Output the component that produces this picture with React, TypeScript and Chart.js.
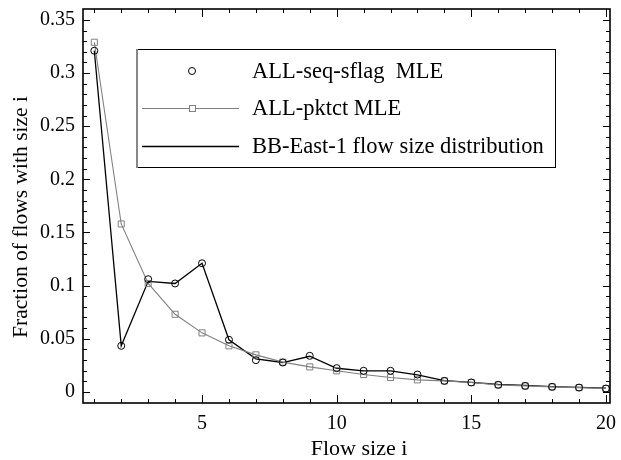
import React, { useEffect, useRef } from "react";
import { Chart, registerables } from "chart.js";

Chart.register(...registerables);

const flowSizes = [1, 2, 3, 4, 5, 6, 7, 8, 9, 10, 11, 12, 13, 14, 15, 16, 17, 18, 19, 20];
const seqSflagMLE = [0.321, 0.0433, 0.106, 0.102, 0.121, 0.049, 0.0298, 0.0276, 0.0339, 0.0223, 0.0198, 0.0198, 0.0163, 0.0103, 0.0088, 0.0066, 0.0056, 0.0047, 0.004, 0.0031];
const pktctMLE = [0.329, 0.158, 0.102, 0.073, 0.0555, 0.0433, 0.0348, 0.028, 0.0235, 0.0198, 0.0163, 0.0135, 0.0113, 0.0103, 0.0088, 0.0066, 0.0056, 0.0047, 0.004, 0.0031];
const bbEastDist = [0.321, 0.0433, 0.104, 0.102, 0.121, 0.049, 0.031, 0.0276, 0.0335, 0.0222, 0.0198, 0.0198, 0.016, 0.0105, 0.009, 0.0071, 0.006, 0.005, 0.0042, 0.0035];
const xTickValues = [5, 10, 15, 20];
const yTickValues = [0, 0.05, 0.1, 0.15, 0.2, 0.25, 0.3, 0.35];
const seriesLabels = ["ALL-seq-sflag  MLE", "ALL-pktct MLE", "BB-East-1 flow size distribution"];
const xTitle = "Flow size i";
const yTitle = "Fraction of flows with size i";

const FONT = "'Liberation Serif', 'DejaVu Serif', serif";

const frameTicksPlugin = {
  id: "frameTicks",
  afterDatasetsDraw(chart: any) {
    const { ctx, chartArea } = chart;
    const { left, right, top, bottom } = chartArea;
    const xs = chart.scales.x;
    const ys = chart.scales.y;
    ctx.save();
    ctx.strokeStyle = "#000";
    ctx.lineWidth = 1;
    ctx.beginPath();
    for (const v of flowSizes) {
      const px = Math.round(xs.getPixelForValue(v)) + 0.5;
      const len = v % 5 === 0 ? 8 : 4;
      ctx.moveTo(px, bottom);
      ctx.lineTo(px, bottom - len);
      ctx.moveTo(px, top);
      ctx.lineTo(px, top + len);
    }
    for (let k = 0; k <= 35; k++) {
      const py = Math.round(ys.getPixelForValue(k / 100)) + 0.5;
      const len = k % 5 === 0 ? 7 : 4;
      ctx.moveTo(left, py);
      ctx.lineTo(left + len, py);
      ctx.moveTo(right, py);
      ctx.lineTo(right - len, py);
    }
    ctx.stroke();
    ctx.lineWidth = 1.6;
    ctx.strokeRect(left, top, right - left, bottom - top);
    ctx.restore();
  },
};

const titlesPlugin = {
  id: "titlesCustom",
  afterDraw(chart: any) {
    const { ctx } = chart;
    ctx.save();
    ctx.fillStyle = "#000";
    ctx.textAlign = "center";
    ctx.textBaseline = "middle";
    ctx.font = `22px ${FONT}`;
    ctx.fillText(xTitle, 359, 449);
    ctx.font = `21.5px ${FONT}`;
    ctx.translate(21, 217);
    ctx.rotate(-Math.PI / 2);
    ctx.fillText(yTitle, 0, 0);
    ctx.restore();
  },
};

const legendPlugin = {
  id: "boxLegend",
  afterDraw(chart: any) {
    const { ctx } = chart;
    const bx = 136, by = 49, bw = 419, bh = 118;
    ctx.save();
    ctx.fillStyle = "#fff";
    ctx.fillRect(bx, by, bw, bh);
    ctx.strokeStyle = "#000";
    ctx.lineWidth = 1;
    ctx.strokeRect(bx + 0.5, by + 0.5, bw, bh);
    ctx.strokeStyle = "#888";
    ctx.lineWidth = 2;
    ctx.beginPath();
    ctx.moveTo(bx + 1, by);
    ctx.lineTo(bx + 1, by + bh + 1);
    ctx.stroke();

    const rows = [71, 108, 146];
    const sx0 = 142, sx1 = 239, mx = 192;
    const ds = chart.data.datasets;
    ctx.strokeStyle = ds[2].borderColor;
    ctx.lineWidth = 1;
    ctx.beginPath();
    ctx.arc(mx, rows[0], 3.5, 0, Math.PI * 2);
    ctx.stroke();
    ctx.strokeStyle = ds[1].borderColor;
    ctx.lineWidth = 1;
    ctx.beginPath();
    ctx.moveTo(sx0, rows[1] + 0.5);
    ctx.lineTo(sx1, rows[1] + 0.5);
    ctx.stroke();
    ctx.fillStyle = "#fff";
    ctx.fillRect(mx - 3, rows[1] - 3, 6, 6);
    ctx.strokeRect(mx - 3 + 0.5, rows[1] - 3 + 0.5, 6, 6);
    ctx.strokeStyle = ds[0].borderColor;
    ctx.lineWidth = 1.3;
    ctx.beginPath();
    ctx.moveTo(sx0, rows[2] + 0.5);
    ctx.lineTo(sx1, rows[2] + 0.5);
    ctx.stroke();

    ctx.fillStyle = "#000";
    ctx.font = `22.5px ${FONT}`;
    ctx.textAlign = "left";
    ctx.textBaseline = "middle";
    ctx.fillText(seriesLabels[0], 252, rows[0] + 1);
    ctx.fillText(seriesLabels[1], 252, rows[1] + 1);
    ctx.fillText(seriesLabels[2], 252, rows[2] + 1);
    ctx.restore();
  },
};

export default function App() {
  const canvasRef = useRef<HTMLCanvasElement | null>(null);

  useEffect(() => {
    document.body.style.margin = "0";
    const canvas = canvasRef.current;
    if (!canvas) return;
    const toPts = (ys: number[]) => flowSizes.map((x, i) => ({ x, y: ys[i] }));
    const chart = new Chart(canvas, {
      type: "line",
      data: {
        datasets: [
          {
            label: seriesLabels[2],
            data: toPts(bbEastDist),
            borderColor: "#000000",
            borderWidth: 1.3,
            pointRadius: 0,
            fill: false,
            tension: 0,
            order: 3,
          },
          {
            label: seriesLabels[1],
            data: toPts(pktctMLE),
            borderColor: "#808080",
            borderWidth: 1.1,
            pointStyle: "rect",
            pointRadius: 4.3,
            pointBorderWidth: 1,
            pointBorderColor: "#808080",
            pointBackgroundColor: "rgba(255,255,255,0)",
            fill: false,
            tension: 0,
            order: 2,
          },
          {
            label: seriesLabels[0],
            data: toPts(seqSflagMLE),
            borderColor: "#000000",
            showLine: false,
            pointStyle: "circle",
            pointRadius: 3.5,
            pointBorderWidth: 1,
            pointBorderColor: "#000000",
            pointBackgroundColor: "rgba(255,255,255,0)",
            fill: false,
            order: 1,
          },
        ],
      },
      options: {
        animation: false,
        responsive: false,
        devicePixelRatio: 1,
        layout: { padding: { top: 9, right: 11, left: 0, bottom: 0 } },
        plugins: {
          legend: { display: false },
          tooltip: { enabled: false },
        },
        scales: {
          x: {
            type: "linear",
            min: 0.58,
            max: 20.15,
            grid: { display: false, drawTicks: false },
            border: { display: false },
            afterBuildTicks: (scale: any) => {
              scale.ticks = xTickValues.map((v) => ({ value: v }));
            },
            afterFit: (scale: any) => {
              scale.height = 57;
              scale.paddingLeft = 0;
              scale.paddingRight = 0;
            },
            ticks: {
              autoSkip: false,
              maxRotation: 0,
              padding: 9,
              color: "#000",
              font: { family: FONT, size: 20 },
              callback: (v: any) => String(v),
            },
          },
          y: {
            type: "linear",
            min: -0.0105,
            max: 0.3603,
            grid: { display: false, drawTicks: false },
            border: { display: false },
            afterBuildTicks: (scale: any) => {
              scale.ticks = yTickValues.map((v) => ({ value: v }));
            },
            afterFit: (scale: any) => {
              scale.width = 83;
              scale.paddingTop = 0;
              scale.paddingBottom = 0;
            },
            ticks: {
              autoSkip: false,
              padding: 8,
              color: "#000",
              font: { family: FONT, size: 20 },
              callback: (v: any) => String(Number(Number(v).toFixed(2))),
            },
          },
        },
      },
      plugins: [frameTicksPlugin, titlesPlugin, legendPlugin],
    } as any);
    return () => chart.destroy();
  }, []);

  return (
    <div style={{ width: 621, height: 460, background: "#fff" }}>
      <canvas ref={canvasRef} width={621} height={460} />
    </div>
  );
}
